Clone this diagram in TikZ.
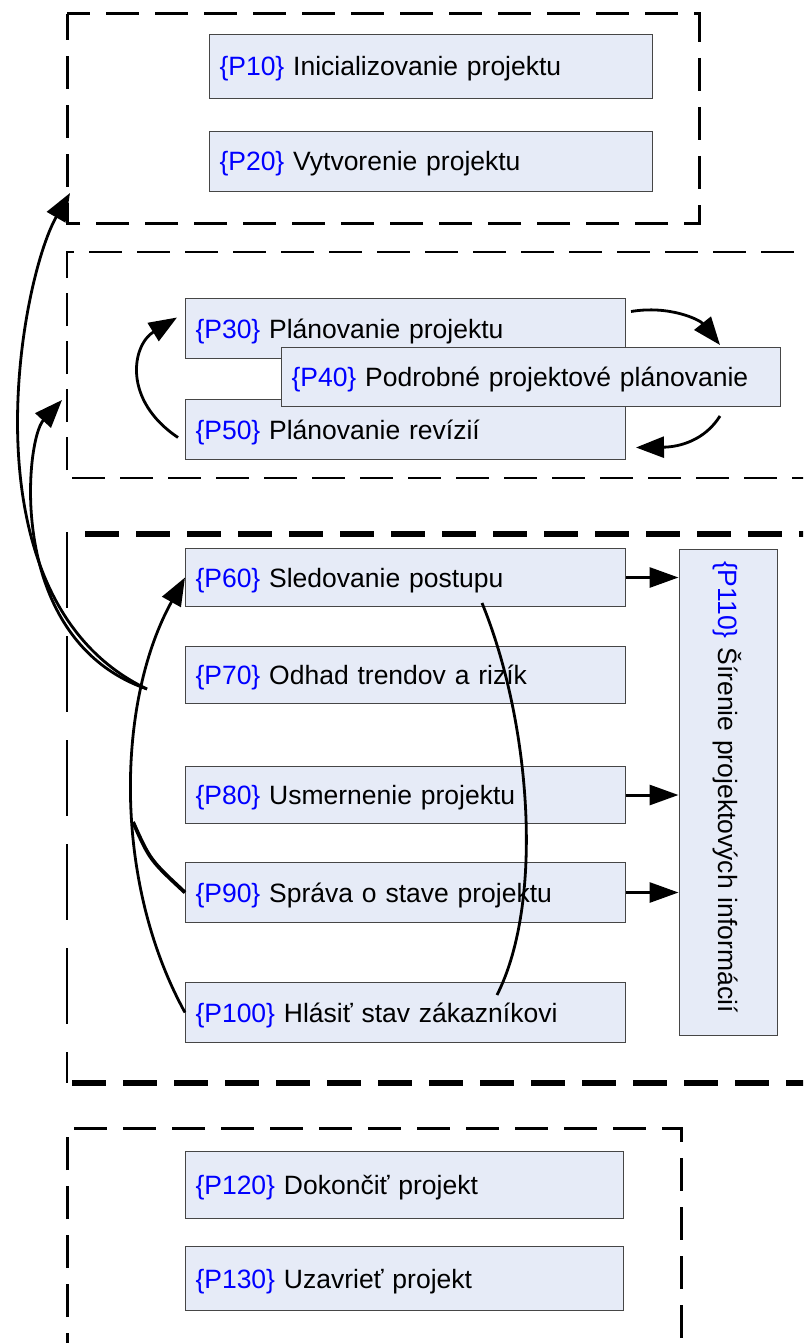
\documentclass[tikz,border=0pt]{standalone}
\usepackage{fontspec}
\setmainfont{Liberation Sans}
\usetikzlibrary{arrows.meta,calc}
\definecolor{boxfill}{RGB}{230,235,247}
\definecolor{boxline}{RGB}{70,70,70}
\definecolor{pblue}{RGB}{0,0,255}
\newcommand\pid[1]{\textcolor{pblue}{\{#1\}}}

\begin{document}
\begin{tikzpicture}[x=1pt,y=-1pt,
  proc/.style={draw=boxline, fill=boxfill, line width=1pt, rectangle,
    anchor=north west, inner xsep=10pt, inner ysep=0pt, align=left,
    text height=19pt, text depth=0pt,
    font=\fontsize{26.5}{30}\selectfont},
  frameA/.style={line width=3pt, dash pattern=on 33pt off 16pt},
  frameB/.style={line width=2.8pt, dash pattern=on 33pt off 15pt},
  frameL/.style={line width=2.2pt, dash pattern=on 76pt off 28pt},
  frameC/.style={line width=6pt, dash pattern=on 34pt off 17pt},
  arr/.style={line width=2.8pt, -{Triangle[length=28pt,width=21pt]}},
  flow/.style={line width=3pt, -{Triangle[length=29pt,width=20pt]}},
  link/.style={line width=2.8pt},
  stub/.style={line width=3.8pt}]

\useasboundingbox (0,0) rectangle (803,1343);

% phase frames
\begin{scope}
  \clip (0,0) rectangle (803,1343);
  \draw[frameA, dash phase=10pt] (67,14) -- (699,14) -- (699,223) -- (67,223) -- cycle;
  \draw[frameB] (67,470) -- (67,252) -- (840,252);
  \draw[frameB] (72,478) -- (840,478);
  \draw[frameL] (67,532) -- (67,1083);
  \draw[frameC] (85,534) -- (840,534);
  \draw[frameC] (72,1083) -- (840,1083);
  \draw[frameA, dash phase=15pt] (67,1400) -- (67,1128) -- (681,1128) -- (681,1400);
\end{scope}

% processes
\node[proc, minimum width=443pt, minimum height=64pt, text width=423pt] (P10) at (209,34) {\pid{P10} Inicializovanie projektu};
\node[proc, minimum width=443pt, minimum height=60pt, text width=423pt] (P20) at (209,131) {\pid{P20} Vytvorenie projektu};

\node[proc, minimum width=440pt, minimum height=60pt, text width=420pt] (P30) at (185,298) {\pid{P30} Plánovanie projektu};
\node[proc, minimum width=440pt, minimum height=60pt, text width=420pt] (P50) at (185,399) {\pid{P50} Plánovanie revízií};
\node[proc, minimum width=499pt, minimum height=59pt, text width=479pt] (P40) at (281,347) {\pid{P40} Podrobné projektové plánovanie};

\node[proc, minimum width=440pt, minimum height=58pt, text width=420pt] (P60) at (185,548) {\pid{P60} Sledovanie postupu};
\node[proc, minimum width=440pt, minimum height=57pt, text width=420pt] (P70) at (185,646) {\pid{P70} Odhad trendov a rizík};
\node[proc, minimum width=440pt, minimum height=57pt, text width=420pt] (P80) at (185,766) {\pid{P80} Usmernenie projektu};
\node[proc, minimum width=440pt, minimum height=60pt, text width=420pt] (P90) at (185,862) {\pid{P90} Správa o stave projektu};
\node[proc, minimum width=440pt, minimum height=60pt, text width=420pt] (P100) at (185,982) {\pid{P100} Hlásiť stav zákazníkovi};

% vertical box, text running downwards; its local south faces left
\node[proc, anchor=center, rotate=-90, inner xsep=12pt, minimum width=486pt, minimum height=98pt, text width=462pt] (P110) at (728,792) {\pid{P110} Šírenie projektových informácií};

\node[proc, minimum width=438pt, minimum height=67pt, text width=418pt] (P120) at (185,1151) {\pid{P120} Dokončiť projekt};
\node[proc, minimum width=438pt, minimum height=64pt, text width=418pt] (P130) at (185,1246) {\pid{P130} Uzavrieť projekt};

% loose ends of the connectors
\coordinate (s) at (147,689);
\coordinate (g1) at (70,193);
\coordinate (g2) at (62,400);
\coordinate (a1) at (133,822);
\coordinate (c1) at ($(P100.north west)+(312,13)$);
\coordinate (c2) at ($(P60.south west)+(297,-4)$);
\coordinate (f1) at ($(P50.west)+(-7,8)$);
\coordinate (f2) at ($(P30.west)+(-8,-11)$);
\coordinate (h1) at ($(P30.east)+(5,-17)$);
\coordinate (h2) at ($(P40.north east)+(-61,-2)$);
\coordinate (k1) at ($(P40.south east)+(-61,9)$);
\coordinate (k2) at ($(P50.east)+(10,18)$);

% planning loop
\draw[arr] (f1) .. controls (122,400) and (132,345) .. (f2);
\draw[arr] (h1) .. controls (670,305) and (700,320) .. (h2);
\draw[arr] (k1) .. controls (705,440) and (680,447) .. (k2);

% feedback to the earlier phases
\draw[arr] (s) .. controls (-40,600) and (20,280) .. (g1);
\draw[arr] (s) .. controls (5,640) and (25,440) .. (g2);

% monitoring loop
\draw[arr] (P100.west) .. controls (112,880) and (117,700) .. (P60.west);
\draw[stub] (a1) .. controls (150,860) .. (P90.west);
\draw[link] (c1) .. controls (545,900) and (530,720) .. (c2);

% information flow
\draw[flow] (P60.east) -- (P60.east -| P110.south);
\draw[flow] (P80.east) -- (P80.east -| P110.south);
\draw[flow] (P90.east) -- (P90.east -| P110.south);
\end{tikzpicture}
\end{document}
